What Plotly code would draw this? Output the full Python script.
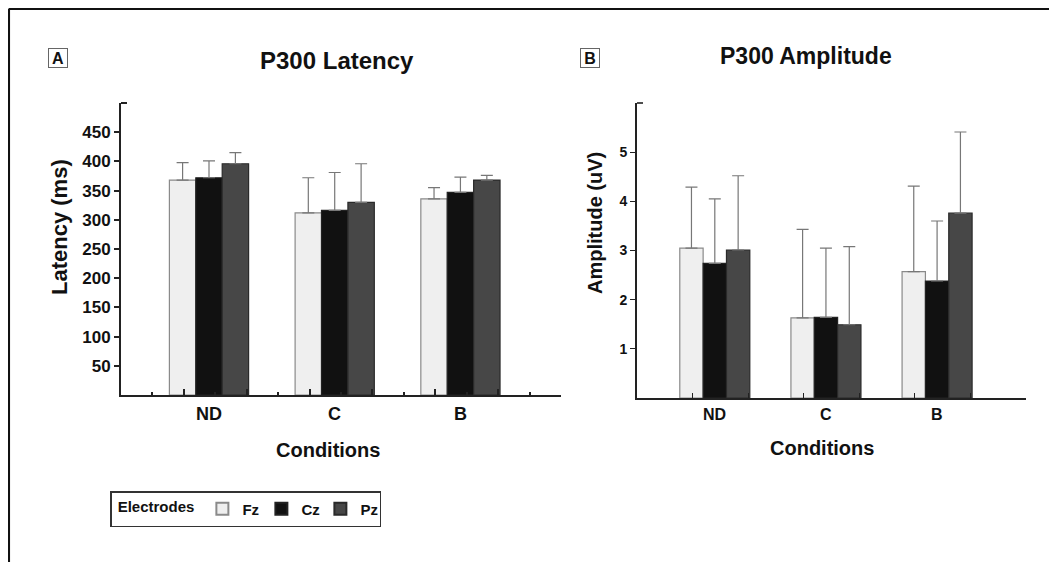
import plotly.graph_objects as go

# ---------------- data ----------------
categories = ["ND", "C", "B"]
electrodes = ["Fz", "Cz", "Pz"]

latency_Fz = [368, 312, 336]
latency_Cz = [372, 316, 347]
latency_Pz = [396, 330, 368]
latency_Fz_sd = [30, 60, 19]
latency_Cz_sd = [29, 65, 26]
latency_Pz_sd = [19, 66, 8]

amplitude_Fz = [3.05, 1.63, 2.57]
amplitude_Cz = [2.74, 1.64, 2.38]
amplitude_Pz = [3.01, 1.49, 3.76]
amplitude_Fz_sd = [1.24, 1.80, 1.74]
amplitude_Cz_sd = [1.31, 1.41, 1.22]
amplitude_Pz_sd = [1.51, 1.59, 1.65]

latency_ticks = [50, 100, 150, 200, 250, 300, 350, 400, 450]
amplitude_ticks = [1, 2, 3, 4, 5]

# ---------------- styling ----------------
OFF = 8                      # page body margin of the browser
W, H = 1057 - OFF, 562 - OFF
FONT = "Liberation Sans, Arial, sans-serif"
fills = {"Fz": "#efefef", "Cz": "#111111", "Pz": "#474747"}
edges = {"Fz": "#8a8a8a", "Cz": "#222222", "Pz": "#2a2a2a"}
AX = "#222222"


def px(x):
    """page x pixel -> paper fraction"""
    return (x - OFF) / W


def py(y):
    """page y pixel -> paper fraction"""
    return 1 - (y - OFF) / H


xpos = list(range(len(categories)))

lat_vals = {"Fz": latency_Fz, "Cz": latency_Cz, "Pz": latency_Pz}
lat_err = {"Fz": latency_Fz_sd, "Cz": latency_Cz_sd, "Pz": latency_Pz_sd}
amp_vals = {"Fz": amplitude_Fz, "Cz": amplitude_Cz, "Pz": amplitude_Pz}
amp_err = {"Fz": amplitude_Fz_sd, "Cz": amplitude_Cz_sd, "Pz": amplitude_Pz_sd}

fig = go.Figure()

for e in electrodes:
    fig.add_trace(go.Bar(
        x=xpos, y=lat_vals[e], name=e, legendgroup=e, showlegend=True,
        marker=dict(color=fills[e], line=dict(color=edges[e], width=1.2)),
        error_y=dict(type="data", symmetric=False, array=lat_err[e],
                     arrayminus=[0] * len(categories),
                     color="#777777", thickness=1.2, width=6),
        xaxis="x", yaxis="y",
    ))
for e in electrodes:
    fig.add_trace(go.Bar(
        x=xpos, y=amp_vals[e], name=e, legendgroup=e, showlegend=False,
        marker=dict(color=fills[e], line=dict(color=edges[e], width=1.2)),
        error_y=dict(type="data", symmetric=False, array=amp_err[e],
                     arrayminus=[0] * len(categories),
                     color="#777777", thickness=1.2, width=6),
        xaxis="x2", yaxis="y2",
    ))

xr = [-0.7, 2.8]
major_x = [-0.2, 0.3, 0.8, 1.3, 1.8, 2.3, 2.8]
minor_x = [-0.45, 0.05, 0.55, 1.05, 1.55, 2.05, 2.55]

fig.update_layout(
    width=W, height=H, autosize=False,
    margin=dict(l=0, r=0, t=0, b=0),
    paper_bgcolor="white", plot_bgcolor="white",
    font=dict(family=FONT, color="#111111"),
    barmode="group", bargap=0.37, bargroupgap=0,
    xaxis=dict(
        domain=[px(121), px(561)], anchor="y", range=xr,
        showline=True, linewidth=2, linecolor=AX, showgrid=False, zeroline=False,
        tickmode="array", tickvals=major_x, ticks="inside", ticklen=6,
        tickwidth=1.5, tickcolor=AX, showticklabels=False,
        minor=dict(tickmode="array", tickvals=minor_x, ticks="inside",
                   ticklen=3, tickwidth=1.5, tickcolor=AX, showgrid=False),
    ),
    yaxis=dict(
        domain=[py(395), py(103)], anchor="x", range=[0, 500],
        showline=True, linewidth=2, linecolor=AX, showgrid=False, zeroline=False,
        tickmode="array", tickvals=latency_ticks, ticks="outside", ticklen=5,
        tickwidth=1.5, tickcolor=AX,
        tickfont=dict(size=17, weight="bold", family=FONT, color="#111"),
    ),
    xaxis2=dict(
        domain=[px(637), px(1026)], anchor="y2", range=xr,
        showline=True, linewidth=1.6, linecolor=AX, showgrid=False, zeroline=False,
        tickmode="array", tickvals=major_x, ticks="inside", ticklen=5,
        tickwidth=1.3, tickcolor=AX, showticklabels=False,
    ),
    yaxis2=dict(
        domain=[py(398), py(103)], anchor="x2", range=[0, 6],
        showline=True, linewidth=1.6, linecolor=AX, showgrid=False, zeroline=False,
        tickmode="array", tickvals=amplitude_ticks, ticks="outside", ticklen=5,
        tickwidth=1.3, tickcolor=AX,
        tickfont=dict(size=14, weight="bold", family=FONT, color="#111"),
    ),
    legend=dict(
        orientation="h", x=px(110), xanchor="left", y=py(491), yanchor="top",
        bgcolor="white", bordercolor="#333333", borderwidth=1.5,
        font=dict(size=15, weight="bold", family=FONT, color="#111"),
        title=dict(text=" Electrodes", side="left",
                   font=dict(size=15, weight="bold", family=FONT, color="#111")),
        traceorder="normal", itemsizing="constant", entrywidth=14,
        itemwidth=30, tracegroupgap=0,
    ),
)


def text_ann(text, x, y, size, xref="paper", angle=0, **kw):
    d = dict(text=text, x=x, xref=xref, y=y, yref="paper", showarrow=False,
             xanchor="center", yanchor="middle", textangle=angle,
             font=dict(size=size, weight="bold", family=FONT, color="#111"))
    d.update(kw)
    return d


ann = []
# category labels
for i, c in enumerate(categories):
    ann.append(text_ann(c, xpos[i], py(414), 18, xref="x"))
    ann.append(text_ann(c, xpos[i], py(414), 16, xref="x2"))
# axis titles
ann.append(text_ann("Conditions", px(328), py(450), 20))
ann.append(text_ann("Conditions", px(822), py(448), 20))
ann.append(text_ann("Latency (ms)", px(59), py(227), 22, angle=-90))
ann.append(text_ann("Amplitude (uV)", px(595), py(223), 20, angle=-90))
# titles
ann.append(text_ann("P300 Latency", px(337), py(60), 24))
ann.append(text_ann("P300 Amplitude", px(806), py(56), 23))
# panel letters
for letter, cx in (("A", 57.5), ("B", 590)):
    ann.append(text_ann(letter, px(cx), py(58), 16, width=18, height=18,
                        align="center", bordercolor="#666666", borderwidth=1,
                        borderpad=0, bgcolor="white"))
fig.update_layout(annotations=ann)

shapes = [
    # outer frame (top and left)
    dict(type="line", xref="paper", yref="paper", x0=px(8.8), x1=1.01,
         y0=py(8.8), y1=py(8.8), line=dict(color="#111111", width=2.5)),
    dict(type="line", xref="paper", yref="paper", x0=px(8.8), x1=px(8.8),
         y0=py(8.8), y1=-0.01, line=dict(color="#111111", width=2.5)),
    # caps at the top of the y axes
    dict(type="line", xref="x domain", yref="y domain", x0=0, x1=6 / 440, y0=1, y1=1,
         line=dict(color=AX, width=2)),
    dict(type="line", xref="x2 domain", yref="y2 domain", x0=0, x1=6 / 389, y0=1, y1=1,
         line=dict(color=AX, width=1.6)),
]
fig.update_layout(shapes=shapes)

fig.write_html("out.html")
